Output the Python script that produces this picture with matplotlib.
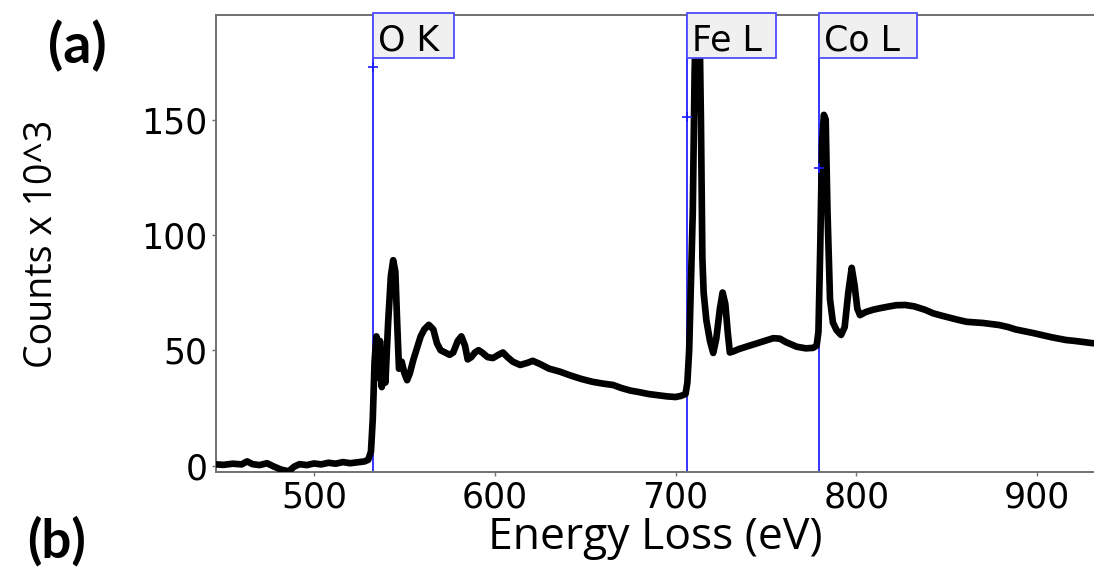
import matplotlib
matplotlib.use("Agg")
import matplotlib.pyplot as plt
from matplotlib.patches import Rectangle

# ---- data ----
energy = [446, 450, 455, 460, 463, 466, 470, 474, 478, 482, 486, 489, 492, 496, 500,
          504, 508, 512, 516, 520, 524, 528, 530, 531.5, 532.5, 533.5, 534.5, 535.5,
          536.5, 537.5, 538.5, 539.5, 541, 542.5, 543.8, 545, 546, 547, 548.5, 550,
          551.5, 553, 555, 557, 559, 561, 563.5, 566, 568, 570, 572.5, 575, 577,
          579.5, 581.5, 583.5, 585, 587, 589, 591, 593, 596, 599, 602, 604.5, 607,
          610, 614, 618, 621, 625, 630, 636, 642, 648, 654, 660, 665.5, 670, 675,
          680, 685, 690, 695, 700, 703, 705.5, 706.5, 707.5, 708.5, 709.5, 710.5,
          711.5, 713, 714, 714.8, 715.5, 717, 719, 720.8, 722.5, 724.5, 726, 727.5,
          728.8, 730, 732, 735, 739, 743, 747, 751, 754, 757.7, 761, 767, 772, 776,
          778, 779, 780, 781, 782, 783, 784, 785.4, 787, 789, 791.5, 793.5, 795.5,
          797.4, 799, 800.5, 802, 805, 809, 812.4, 817, 822, 827, 832, 838, 842.4,
          847, 852, 856, 861, 866, 870, 875, 879, 884, 888, 893, 898, 903, 908, 912,
          916, 921, 926, 931]
counts = [0.5, 0.3, 0.8, 0.5, 1.8, 0.6, 0.2, 1.0, -0.5, -1.8, -2.5, -0.5, 0.6, 0.2, 0.9,
          0.5, 1.2, 0.8, 1.5, 1.0, 1.4, 1.8, 2.5, 6, 20, 45, 56, 38,
          54, 34, 50, 36, 62, 82, 89, 84, 62, 42, 45, 40,
          37, 40, 46, 51, 56, 59, 61, 59, 53, 50, 49, 48, 49,
          54, 56, 52, 46, 47, 49, 50, 49, 47, 46.6, 48, 49, 47,
          45, 43.6, 44.5, 45.4, 44, 42, 40.7, 39, 37.5, 36.3, 35.5, 34.9, 33.6, 32.5,
          31.8, 31.0, 30.5, 30, 29.7, 30.2, 31, 36, 50, 80, 110, 170,
          205, 205, 150, 90, 75, 63, 54, 48.8, 55, 68, 75, 70,
          58, 49, 49.5, 50.5, 51.5, 52.5, 53.5, 54.5, 55.2, 55, 53.5, 51.5, 50.8, 51,
          52, 58, 95, 140, 152, 150, 110, 72, 62, 58.7, 56.6, 60, 75,
          85.7, 78, 68, 65.2, 66.5, 67.5, 68.1, 68.8, 69.5, 69.6, 69, 67.5, 66,
          65, 64, 63.2, 62.3, 62, 61.8, 61.3, 60.9, 60, 59, 58.2, 57.4, 56.5, 55.6, 55,
          54.4, 54, 53.5, 53]

edge_names = ["O K", "Fe L", "Co L"]
edge_energy = [532.6, 706.3, 779.1]
edge_marker = [172.9, 150.9, 129.1]
edge_box_width = [44.8, 49.2, 54.2]

xticks = [500, 600, 700, 800, 900]
yticks = [0, 50, 100, 150]

# ---- figure ----
fig = plt.figure(figsize=(10.94, 5.71), dpi=100)
ax = fig.add_axes([216 / 1094, 1 - 472 / 571, 1 - 216 / 1094, (472 - 15) / 571])

xmin, xmax = 445.8, 931.4
ymin, ymax = -2.8, 195.3
ax.set_xlim(xmin, xmax)
ax.set_ylim(ymin, ymax)

ax.plot(energy, counts, color="black", lw=4.8, solid_joinstyle="round",
        solid_capstyle="round", zorder=3)

box_bottom = 176.6
for name, e, m, w in zip(edge_names, edge_energy, edge_marker, edge_box_width):
    ax.axvline(e, color="#2424ff", lw=1.3, zorder=2)
    ax.plot([e], [m], marker="+", color="#1a1aff", ms=7, mew=1.2, zorder=4)
    ax.add_patch(Rectangle((e, box_bottom), w, ymax - box_bottom + 0.8,
                           facecolor="#f0f0f0", edgecolor="#4d4dff", lw=1.3,
                           zorder=5, clip_on=False))
    ax.text(e + 3.0, 180.1, name, fontsize=25, family="DejaVu Sans",
            ha="left", va="baseline", zorder=6)

spine_color = "#707070"
for s in ["left", "bottom", "top"]:
    ax.spines[s].set_color(spine_color)
    ax.spines[s].set_linewidth(1.4)
ax.spines["right"].set_visible(False)

ax.set_xticks(xticks)
ax.set_xticklabels([str(t) for t in xticks])
ax.set_yticks(yticks)
ax.set_yticklabels([str(t) for t in yticks])
ax.tick_params(direction="out", length=3, width=1, color=spine_color,
               labelsize=25, pad=3)

label_font = ["Liberation Sans Narrow", "Open Sans", "DejaVu Sans"]
ax.set_xlabel("Energy Loss (eV)", fontsize=32, family=label_font, labelpad=1)
ax.set_ylabel("Counts x 10^3", fontsize=27, family=label_font, labelpad=58)

fig.text(77 / 1094, 1 - 46 / 571, "(a)", fontsize=40, fontweight="bold",
         family=["Lato", "Open Sans", "DejaVu Sans"], ha="center", va="center")
fig.text(57 / 1094, 1 - 541 / 571, "(b)", fontsize=38, fontweight="bold",
         family=["Lato", "Open Sans", "DejaVu Sans"], ha="center", va="center")

fig.savefig("out.png", dpi=100)
